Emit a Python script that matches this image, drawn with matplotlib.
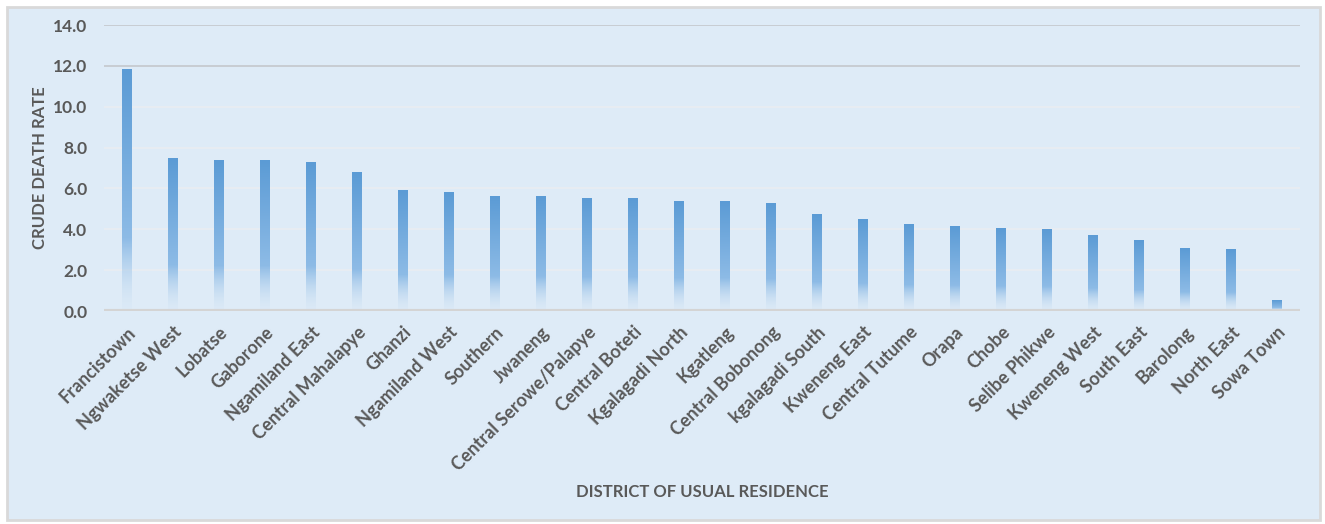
import matplotlib.pyplot as plt
import numpy as np
from matplotlib.colors import to_rgb
from matplotlib.patches import Rectangle

districts = ['Francistown', 'Ngwaketse West', 'Lobatse', 'Gaborone', 'Ngamiland East',
             'Central Mahalapye', 'Ghanzi', 'Ngamiland West', 'Southern', 'Jwaneng',
             'Central Serowe/Palapye', 'Central Boteti', 'Kgalagadi North', 'Kgatleng',
             'Central Bobonong', 'kgalagadi South', 'Kweneng East', 'Central Tutume',
             'Orapa', 'Chobe', 'Selibe Phikwe', 'Kweneng West', 'South East', 'Barolong',
             'North East', 'Sowa Town']
death_rate = [11.8, 7.45, 7.35, 7.35, 7.25, 6.8, 5.9, 5.8, 5.6, 5.6, 5.5, 5.5, 5.35,
              5.35, 5.25, 4.7, 4.5, 4.25, 4.15, 4.05, 4.0, 3.7, 3.45, 3.05, 3.0, 0.5]
y_ticks = [0, 2, 4, 6, 8, 10, 12, 14]

text_col = '#595959'
bg_col = '#DEEBF7'
bar_top = np.array(to_rgb('#5B9BD5'))
bar_mid = np.array(to_rgb('#8DBBE6'))

plt.rcParams['font.family'] = ['Lato', 'DejaVu Sans']

fig = plt.figure(figsize=(13.25, 5.24), dpi=100)
fig.patch.set_facecolor('white')
fig.patches.append(Rectangle((7 / 1325, 4 / 524), 1313 / 1325, 513 / 524,
                             transform=fig.transFigure, facecolor=bg_col,
                             edgecolor='#D9D9D9', linewidth=2, zorder=-10))

ax = fig.add_axes([104 / 1325, 1 - 311 / 524, 1196 / 1325, 286 / 524])
ax.patch.set_alpha(0)

x = np.arange(len(districts))
bars = ax.bar(x, death_rate, width=0.21, color='none', edgecolor='none', zorder=3)

# vertical gradient: solid blue at the top, fading out near the baseline
t = np.linspace(0, 1, 200)
grad = np.zeros((200, 1, 4))
bg_rgb = np.array(to_rgb(bg_col))
for i, tv in enumerate(t):
    if tv >= 0.3:
        f = (tv - 0.3) / 0.7
        grad[i, 0, :3] = bar_mid + (bar_top - bar_mid) * f
        grad[i, 0, 3] = 1.0
    else:
        grad[i, 0, :3] = bar_mid + (bg_rgb - bar_mid) * (1 - tv / 0.3) * 0.3
        grad[i, 0, 3] = 0.05 + 0.95 * (tv / 0.3) ** 1.5

for b in bars:
    x0, w, h = b.get_x(), b.get_width(), b.get_height()
    ax.imshow(grad, extent=[x0, x0 + w, 0, h], origin='lower',
              aspect='auto', zorder=3, interpolation='bilinear')

ax.set_xlim(-0.5, len(districts) - 0.5)
ax.set_ylim(0, 14)
ax.set_yticks(y_ticks)
ax.set_yticklabels([f'{v:.1f}' for v in y_ticks])

for v in y_ticks[1:]:
    col = '#C4C7CC' if v >= 12 else '#E9EDF2'
    ax.axhline(v, color=col, linewidth=1.2, zorder=1)
ax.axhline(0, color='#D4D4D4', linewidth=3, zorder=4)

for s in ax.spines.values():
    s.set_visible(False)
ax.tick_params(axis='both', length=0, colors=text_col)
ax.tick_params(axis='y', pad=12, labelsize=12.5)
ax.tick_params(axis='x', pad=9, labelsize=13)
for lbl in ax.get_yticklabels():
    lbl.set_fontweight('bold')

ax.set_xticks(x)
ax.set_xticklabels(districts, rotation=45, ha='right', rotation_mode='anchor',
                   fontweight='bold')

ax.set_ylabel('CRUDE DEATH RATE', fontsize=12, fontweight='bold', color=text_col,
              labelpad=4)
fig.text(702 / 1325, 1 - 492 / 524, 'DISTRICT OF USUAL RESIDENCE', fontsize=12,
         fontweight='bold', color=text_col, ha='center', va='center')

fig.savefig('out.png', dpi=100)
